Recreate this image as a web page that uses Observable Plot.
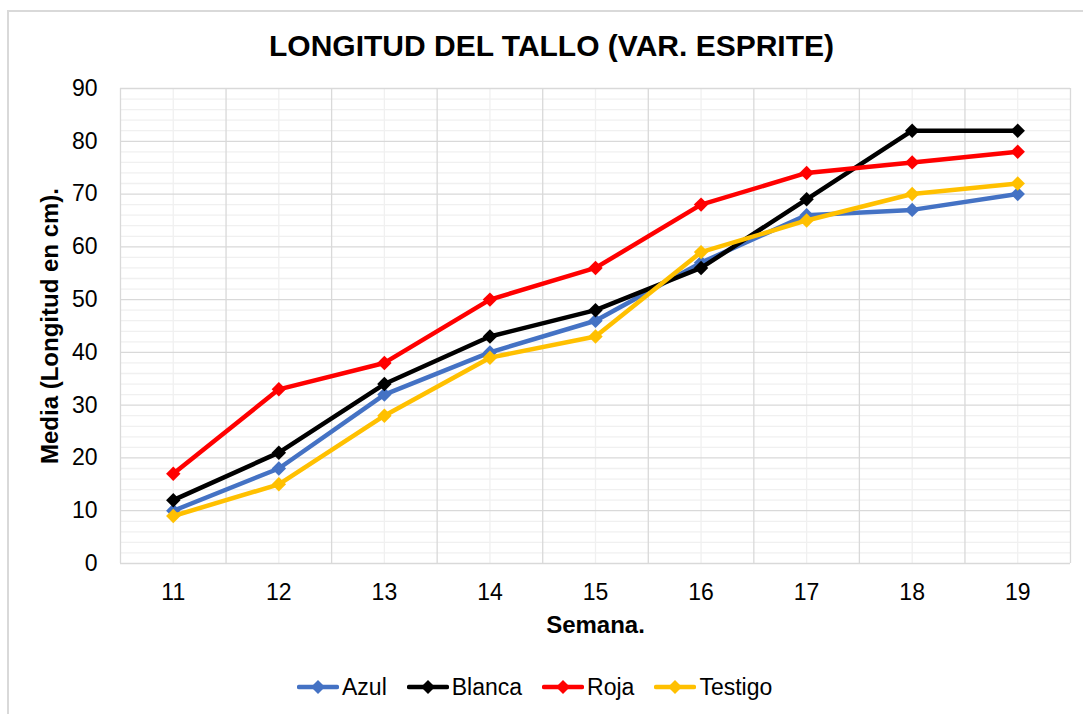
<!DOCTYPE html>
<html>
<head>
<meta charset="utf-8">
<script src="https://cdn.jsdelivr.net/npm/d3@7"></script>
<script src="https://cdn.jsdelivr.net/npm/@observablehq/plot@0.6"></script>
<style>
  html, body { margin: 0; padding: 0; background: #fff; }
  #wrap { position: relative; width: 1083px; height: 714px; overflow: hidden; font-family: Arial, "Liberation Sans", sans-serif; }
  #frame { position: absolute; left: 7px; top: 10px; width: 1200px; height: 800px; border: 2px solid #d9d9d9; box-sizing: border-box; }
  #title { position: absolute; left: 10px; width: 1083px; top: 29px; text-align: center; font-weight: bold; font-size: 30px; line-height: 34px; color: #000; }
  #chart { position: absolute; left: 0; top: 0; }
  #legend { position: absolute; left: 297px; top: 672px; display: flex; align-items: center; font-size: 23px; line-height: 30px; color: #000; }
  .item { display: flex; align-items: center; margin-right: 20px; }
  .item svg { margin-right: 3px; }
</style>
</head>
<body>
<div id="wrap">
  <div id="frame"></div>
  <div id="chart"></div>
  <div id="title">LONGITUD DEL TALLO (VAR. ESPRITE)</div>
  <div id="legend"></div>
</div>
<script>
const semanas = [11, 12, 13, 14, 15, 16, 17, 18, 19];
const azul    = [10, 18, 32, 40, 46, 57, 66, 67, 70];
const blanca  = [12, 21, 34, 43, 48, 56, 69, 82, 82];
const roja    = [17, 33, 38, 50, 56, 68, 74, 76, 78];
const testigo = [9, 15, 28, 39, 43, 59, 65, 70, 72];
const seriesNames = ["Azul", "Blanca", "Roja", "Testigo"];
const seriesValues = [azul, blanca, roja, testigo];
const seriesColors = ["#4472C4", "#000000", "#FF0000", "#FFC000"];
const yTicks = [0, 10, 20, 30, 40, 50, 60, 70, 80, 90];

const minorY = d3.range(0, 91, 2).filter(v => v % 10 !== 0);
const boundaries = semanas.map(s => s - 0.5).concat([semanas[semanas.length - 1] + 0.5]);

const marks = [
  Plot.ruleY(minorY, {stroke: "#f0f0f0", strokeWidth: 1.3}),
  Plot.ruleX(semanas, {stroke: "#f0f0f0", strokeWidth: 1.3}),
  Plot.ruleY(yTicks, {stroke: "#d9d9d9", strokeWidth: 1.3}),
  Plot.ruleX(boundaries, {stroke: "#d9d9d9", strokeWidth: 1.3}),
  Plot.axisY(yTicks, {tickSize: 0, tickPadding: 23, fontSize: 23, fill: "#000", label: null}),
  Plot.axisX(semanas, {tickSize: 0, tickPadding: 20, fontSize: 23, fill: "#000", label: null, tickFormat: d => String(d)}),
  Plot.text(["Semana."], {frameAnchor: "bottom", dy: 62, fontSize: 24, fontWeight: "bold", fill: "#000", lineAnchor: "middle", textAnchor: "middle"}),
  Plot.text(["Media (Longitud en cm)."], {frameAnchor: "left", dx: -70, rotate: -90, fontSize: 24, fontWeight: "bold", fill: "#000", textAnchor: "middle", lineAnchor: "middle"})
];

seriesNames.forEach((name, i) => {
  const rows = semanas.map((s, j) => ({semana: s, valor: seriesValues[i][j]}));
  marks.push(Plot.line(rows, {x: "semana", y: "valor", stroke: seriesColors[i], strokeWidth: 4.5, strokeLinejoin: "round", strokeLinecap: "round"}));
  marks.push(Plot.dot(rows, {x: "semana", y: "valor", symbol: "diamond2", r: 6.5, fill: seriesColors[i], stroke: null}));
});

const chart = Plot.plot({
  width: 1083,
  height: 714,
  marginLeft: 120,
  marginRight: 13,
  marginTop: 88,
  marginBottom: 151,
  style: {fontFamily: "Arial, 'Liberation Sans', sans-serif", background: "transparent", overflow: "visible"},
  x: {type: "linear", domain: [10.5, 19.5]},
  y: {domain: [0, 90]},
  marks
});
document.getElementById("chart").appendChild(chart);

const legend = document.getElementById("legend");
seriesNames.forEach((name, i) => {
  const item = document.createElement("div");
  item.className = "item";
  item.innerHTML = `<svg width="42" height="16"><line x1="2" y1="8" x2="40" y2="8" stroke="${seriesColors[i]}" stroke-width="4.5" stroke-linecap="round"/><path d="M21,1 L28,8 L21,15 L14,8 Z" fill="${seriesColors[i]}"/></svg><span>${name}</span>`;
  legend.appendChild(item);
});
</script>
</body>
</html>
